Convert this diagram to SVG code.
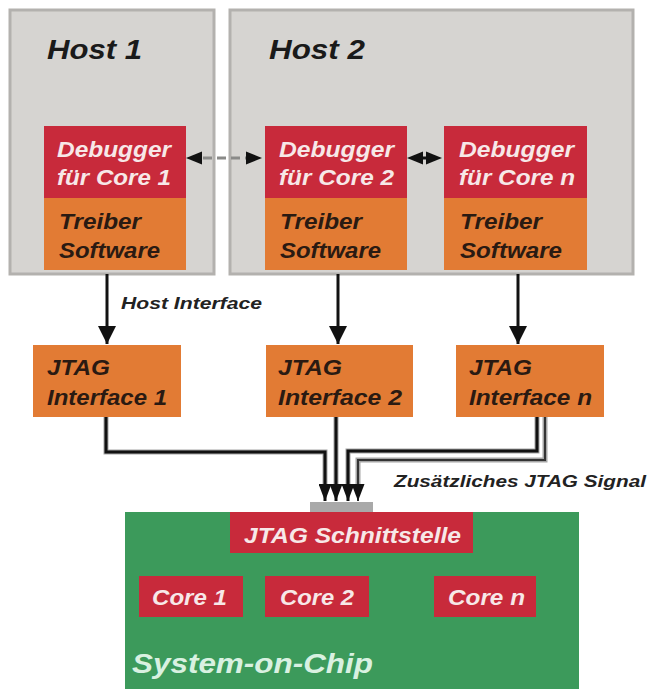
<svg xmlns="http://www.w3.org/2000/svg" width="649" height="689" viewBox="0 0 649 689">
  <defs>
    <marker id="head" viewBox="0 0 10 10" refX="10" refY="5" markerWidth="18" markerHeight="18" markerUnits="userSpaceOnUse" orient="auto-start-reverse">
      <path d="M0,0 L10,5 L0,10 z" fill="#111"/>
    </marker>
    <marker id="headBus" viewBox="0 0 10 10" refX="10" refY="5" markerWidth="17" markerHeight="13" markerUnits="userSpaceOnUse" orient="auto" preserveAspectRatio="none">
      <path d="M0,0 L10,5 L0,10 z" fill="#111"/>
    </marker>
  </defs>
  <style>
    .host { fill: #d6d4d1; stroke: #b3b1ae; stroke-width: 3; }
    .red { fill: #c82a3b; }
    .orange { fill: #e27b34; }
    .green { fill: #3c9a5b; }
    text { font-family: "Liberation Sans", Arial, sans-serif; font-weight: bold; font-style: italic; }
    .lt { fill: #f7e8e8; font-size: 22px; }
    .dk { fill: #2a1a12; font-size: 22px; }
    .lbl { fill: #222; font-size: 16px; }
    .title { fill: #1a1a1a; font-size: 28px; }
    .wire { fill: none; stroke: #111; stroke-width: 3; }
    .thin { fill: none; stroke: #333; stroke-width: 2; }
    .halo { fill: none; stroke: #a5a5a5; stroke-width: 5; }
  </style>

  <!-- hosts -->
  <g id="host1">
    <rect class="host" x="10" y="10" width="204" height="264"/>
    <text class="title" x="47" y="59" textLength="95" lengthAdjust="spacingAndGlyphs">Host 1</text>
  </g>
  <g id="host2">
    <rect class="host" x="230" y="10" width="403" height="264"/>
    <text class="title" x="269" y="59" textLength="96" lengthAdjust="spacingAndGlyphs">Host 2</text>
  </g>

  <!-- debuggers and drivers -->
  <g id="debugger1">
    <rect class="red" x="44" y="126" width="142" height="72"/>
    <text class="lt" x="57" y="157" textLength="114" lengthAdjust="spacingAndGlyphs">Debugger</text>
    <text class="lt" x="57" y="185" textLength="114" lengthAdjust="spacingAndGlyphs">für Core 1</text>
  </g>
  <g id="driver1">
    <rect class="orange" x="44" y="198" width="142" height="72"/>
    <text class="dk" x="59" y="229" textLength="82" lengthAdjust="spacingAndGlyphs">Treiber</text>
    <text class="dk" x="59" y="258" textLength="101" lengthAdjust="spacingAndGlyphs">Software</text>
  </g>
  <g id="debugger2">
    <rect class="red" x="265" y="126" width="142" height="72"/>
    <text class="lt" x="279" y="157" textLength="115" lengthAdjust="spacingAndGlyphs">Debugger</text>
    <text class="lt" x="279" y="185" textLength="115" lengthAdjust="spacingAndGlyphs">für Core 2</text>
  </g>
  <g id="driver2">
    <rect class="orange" x="265" y="198" width="142" height="72"/>
    <text class="dk" x="280" y="229" textLength="82" lengthAdjust="spacingAndGlyphs">Treiber</text>
    <text class="dk" x="280" y="258" textLength="101" lengthAdjust="spacingAndGlyphs">Software</text>
  </g>
  <g id="debuggern">
    <rect class="red" x="444" y="126" width="143" height="72"/>
    <text class="lt" x="459" y="157" textLength="115" lengthAdjust="spacingAndGlyphs">Debugger</text>
    <text class="lt" x="459" y="185" textLength="116" lengthAdjust="spacingAndGlyphs">für Core n</text>
  </g>
  <g id="drivern">
    <rect class="orange" x="444" y="198" width="143" height="72"/>
    <text class="dk" x="460" y="229" textLength="82" lengthAdjust="spacingAndGlyphs">Treiber</text>
    <text class="dk" x="460" y="258" textLength="102" lengthAdjust="spacingAndGlyphs">Software</text>
  </g>

  <!-- JTAG interfaces -->
  <g id="jtag1">
    <rect class="orange" x="33" y="345" width="148" height="72"/>
    <text class="dk" x="47" y="375" textLength="63" lengthAdjust="spacingAndGlyphs">JTAG</text>
    <text class="dk" x="47" y="405" textLength="120" lengthAdjust="spacingAndGlyphs">Interface 1</text>
  </g>
  <g id="jtag2">
    <rect class="orange" x="266" y="345" width="147" height="72"/>
    <text class="dk" x="278" y="375" textLength="64" lengthAdjust="spacingAndGlyphs">JTAG</text>
    <text class="dk" x="278" y="405" textLength="124" lengthAdjust="spacingAndGlyphs">Interface 2</text>
  </g>
  <g id="jtagn">
    <rect class="orange" x="456" y="345" width="148" height="72"/>
    <text class="dk" x="469" y="375" textLength="63" lengthAdjust="spacingAndGlyphs">JTAG</text>
    <text class="dk" x="469" y="405" textLength="123" lengthAdjust="spacingAndGlyphs">Interface n</text>
  </g>

  <!-- system on chip -->
  <g id="soc">
    <rect class="green" x="125" y="512" width="454" height="177"/>
    <rect x="310" y="502" width="63" height="10" fill="#a9a9a9"/>
    <text x="132" y="673" font-size="28" fill="#d9f1e1" textLength="241" lengthAdjust="spacingAndGlyphs">System-on-Chip</text>
  </g>
  <g id="jtagport">
    <rect class="red" x="230" y="512" width="243" height="41"/>
    <text class="lt" x="244" y="543" font-size="21" textLength="217" lengthAdjust="spacingAndGlyphs">JTAG Schnittstelle</text>
  </g>
  <g id="core1">
    <rect class="red" x="139" y="576" width="104" height="41"/>
    <text class="lt" x="152" y="605" font-size="21" textLength="75" lengthAdjust="spacingAndGlyphs">Core 1</text>
  </g>
  <g id="core2">
    <rect class="red" x="265" y="576" width="104" height="41"/>
    <text class="lt" x="280" y="605" font-size="21" textLength="74" lengthAdjust="spacingAndGlyphs">Core 2</text>
  </g>
  <g id="coren">
    <rect class="red" x="434" y="576" width="102" height="41"/>
    <text class="lt" x="448" y="605" font-size="21" textLength="77" lengthAdjust="spacingAndGlyphs">Core n</text>
  </g>

  <!-- connectors -->
  <g id="connectors">
    <!-- debugger links -->
    <line x1="203" y1="158" x2="246" y2="158" stroke="#8a8a88" stroke-width="3" stroke-dasharray="9,5"/>
    <path d="M186,158 L202,151.5 L202,164.5 z" fill="#111"/>
    <path d="M262,158 L246,151.5 L246,164.5 z" fill="#111"/>
    <path d="M407,158 L423,151.5 L423,164.5 z" fill="#111"/>
    <path d="M442,158 L426,151.5 L426,164.5 z" fill="#111"/>
    <line x1="420" y1="158" x2="429" y2="158" stroke="#111" stroke-width="3"/>

    <!-- host interface arrows -->
    <line class="wire" x1="107" y1="274" x2="107" y2="344" marker-end="url(#head)"/>
    <line class="wire" x1="338" y1="274" x2="338" y2="344" marker-end="url(#head)"/>
    <line class="wire" x1="518" y1="274" x2="518" y2="344" marker-end="url(#head)"/>
    <text class="lbl" x="121" y="309" textLength="141" lengthAdjust="spacingAndGlyphs">Host Interface</text>

    <!-- JTAG bus into the chip -->
    <path class="halo" d="M106,417 L106,452 L325,452 L325,488"/>
    <path class="halo" d="M336,417 L336,488"/>
    <path class="halo" d="M537,417 L537,451 L348,451 L348,488"/>
    <path class="halo" d="M545,417 L545,460 L358,460 L358,488"/>
    <path class="wire" d="M106,417 L106,452 L325,452 L325,501" marker-end="url(#headBus)"/>
    <path class="wire" d="M336,417 L336,501" marker-end="url(#headBus)"/>
    <path class="wire" d="M537,417 L537,451 L348,451 L348,501" marker-end="url(#headBus)"/>
    <path class="thin" d="M545,417 L545,460 L358,460 L358,501" marker-end="url(#headBus)"/>
    <text class="lbl" x="394" y="487" textLength="252" lengthAdjust="spacingAndGlyphs">Zusätzliches JTAG Signal</text>
  </g>
</svg>
